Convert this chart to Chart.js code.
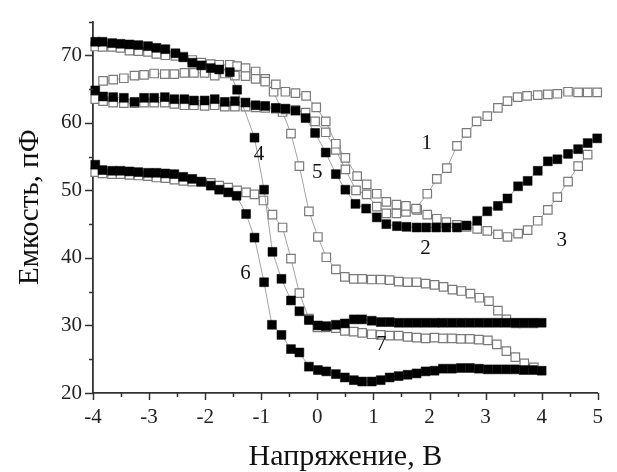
<!DOCTYPE html>
<html>
<head>
<meta charset="utf-8">
<script src="https://cdn.jsdelivr.net/npm/chart.js@4.4.1/dist/chart.umd.min.js"></script>
<style>
  html, body { margin: 0; padding: 0; background: #fff; }
</style>
</head>
<body>
<canvas id="cv" width="617" height="472"></canvas>
<script>
// C-V curves 1..7, voltage (V) / capacitance (pF)
const c1x = [-3.82,-3.64,-3.45,-3.26,-3.09,-2.91,-2.72,-2.55,-2.37,-2.20,-2.01,-1.83,-1.65,-1.47,-1.28,-1.10,-0.93,-0.74,-0.57,-0.39,-0.20,-0.02,0.15,0.33,0.50,0.71,0.88,1.06,1.23,1.41,1.58,1.76,1.96,2.13,2.31,2.49,2.66,2.84,3.03,3.22,3.39,3.57,3.74,3.93,4.11,4.28,4.47,4.65,4.82,4.99];
const c1y = [66.2,66.4,66.6,67.0,67.1,67.3,67.2,67.2,67.4,67.4,67.4,67.0,67.3,67.0,66.9,66.5,66.1,65.7,64.6,64.4,64.0,62.3,60.2,56.9,54.8,52.1,50.9,49.5,48.3,47.9,47.7,47.3,49.5,51.7,53.3,56.6,58.5,60.2,61.0,62.2,63.2,63.8,64.0,64.1,64.2,64.3,64.6,64.5,64.5,64.5];

const c2x = [-3.96,-3.82,-3.64,-3.45,-3.26,-3.09,-2.91,-2.72,-2.55,-2.37,-2.20,-2.01,-1.83,-1.65,-1.47,-1.28,-1.10,-0.93,-0.74,-0.57,-0.39,-0.21,-0.04,0.15,0.33,0.50,0.68,0.87,1.06,1.23,1.42,1.59,1.77,1.94,2.12,2.30,2.49,2.66,2.85,3.03,3.22,3.39,3.58,3.75,3.93,4.11,4.28,4.47,4.65,4.82,4.99];
const c2y = [64.8,63.9,63.8,63.7,63.1,63.7,63.7,63.8,63.5,63.5,63.3,63.3,63.5,63.1,63.2,63.0,62.6,62.5,62.2,62.1,61.8,60.7,58.5,55.6,52.4,50.1,48.0,47.3,46.0,45.0,44.7,44.6,44.5,44.5,44.5,44.5,44.5,44.8,45.5,46.9,47.7,48.8,50.6,51.4,52.9,54.3,54.6,55.4,56.1,57.0,57.7];

const c3x = [-3.96,-3.82,-3.64,-3.45,-3.26,-3.09,-2.91,-2.72,-2.55,-2.37,-2.20,-2.01,-1.83,-1.65,-1.47,-1.28,-1.10,-0.93,-0.74,-0.57,-0.39,-0.21,-0.04,0.15,0.33,0.50,0.69,0.88,1.06,1.23,1.41,1.58,1.78,1.96,2.13,2.30,2.49,2.66,2.85,3.03,3.22,3.39,3.58,3.75,3.93,4.11,4.28,4.47,4.65,4.82];
const c3y = [63.5,63.2,63.0,62.9,62.9,63.0,63.0,63.0,62.8,62.6,62.6,62.5,62.6,62.4,62.4,62.4,62.3,62.2,62.1,62.0,61.9,61.5,60.2,58.6,56.0,53.1,50.0,49.4,47.6,46.6,46.6,46.8,47.1,46.4,45.8,45.3,44.9,44.6,44.3,44.0,43.5,43.1,43.6,44.1,45.5,47.1,49.0,51.3,53.6,55.3];

const c4x = [-3.96,-3.83,-3.66,-3.51,-3.35,-3.19,-3.02,-2.87,-2.71,-2.53,-2.39,-2.23,-2.07,-1.90,-1.75,-1.56,-1.43,-1.12,-0.95,-0.80,-0.64,-0.47,-0.32,-0.15,0.01,0.16,0.33,0.49,0.65,0.80,0.97,1.13,1.29,1.45,1.61,1.77,1.93,2.09,2.24,2.40,2.56,2.72,2.88,3.04,3.20,3.36,3.52,3.68,3.84,4.00];
const c4y = [72.0,72.0,71.8,71.7,71.6,71.5,71.35,71.1,70.9,70.3,69.7,68.9,68.5,68.1,67.9,67.5,64.9,57.8,50.1,40.9,36.9,33.7,32.1,30.8,30.0,29.9,30.1,30.3,30.9,30.9,30.7,30.5,30.5,30.4,30.4,30.4,30.4,30.4,30.4,30.4,30.4,30.4,30.4,30.4,30.4,30.4,30.4,30.4,30.4,30.4];

const c5x = [-3.96,-3.83,-3.66,-3.51,-3.35,-3.19,-3.02,-2.87,-2.71,-2.53,-2.39,-2.23,-2.07,-1.90,-1.75,-1.56,-1.43,-1.28,-1.10,-0.93,-0.78,-0.62,-0.47,-0.32,-0.15,0.01,0.16,0.33,0.49,0.65,0.80,0.97,1.13,1.29,1.45,1.61,1.77,1.93,2.09,2.25,2.41,2.57,2.73,2.89,3.06,3.22,3.37,3.54,3.68,3.85];
const c5y = [71.3,71.25,71.25,71.1,70.7,70.6,70.5,70.2,70.0,69.9,69.8,69.3,68.9,68.7,68.6,68.6,68.4,68.1,67.6,66.5,64.6,61.6,58.4,53.6,46.9,43.1,40.1,38.3,37.2,36.9,36.9,36.8,36.8,36.7,36.5,36.4,36.4,36.2,36.0,35.7,35.3,35.1,34.7,34.1,33.6,32.2,30.9,30.3,30.3,30.3];

const c6x = [-3.96,-3.83,-3.66,-3.51,-3.35,-3.19,-3.02,-2.87,-2.71,-2.55,-2.39,-2.23,-2.07,-1.90,-1.75,-1.59,-1.44,-1.27,-1.12,-0.95,-0.81,-0.64,-0.47,-0.32,-0.15,0.01,0.16,0.33,0.49,0.65,0.80,0.97,1.13,1.29,1.45,1.61,1.77,1.93,2.09,2.24,2.40,2.56,2.72,2.88,3.04,3.20,3.36,3.52,3.68,3.84,4.00];
const c6y = [53.8,53.0,52.9,52.9,52.8,52.7,52.6,52.6,52.5,52.4,52.0,51.7,51.3,50.7,50.1,49.7,49.2,46.5,43.0,36.4,30.1,28.6,26.5,26.0,23.9,23.4,23.2,22.8,22.3,21.9,21.7,21.7,21.9,22.3,22.5,22.7,22.9,23.2,23.3,23.6,23.6,23.7,23.7,23.6,23.5,23.5,23.5,23.5,23.4,23.4,23.3];

const c7x = [-3.96,-3.83,-3.66,-3.51,-3.35,-3.19,-3.02,-2.87,-2.71,-2.55,-2.39,-2.23,-2.07,-1.90,-1.75,-1.59,-1.43,-1.27,-1.12,-0.96,-0.80,-0.62,-0.47,-0.32,-0.15,0.00,0.15,0.33,0.49,0.65,0.80,0.97,1.13,1.29,1.45,1.61,1.77,1.93,2.09,2.24,2.40,2.56,2.72,2.88,3.04,3.20,3.37,3.53,3.69,3.86];
const c7y = [52.7,52.5,52.4,52.4,52.3,52.2,52.1,51.9,51.8,51.6,51.4,51.3,51.2,51.1,50.7,50.4,50.0,49.7,49.4,48.5,46.4,44.5,39.9,34.8,31.0,29.7,29.7,29.6,29.2,29.1,28.9,28.7,28.6,28.5,28.5,28.3,28.2,28.1,28.2,28.1,28.1,28.0,28.0,27.9,27.8,27.2,26.2,25.3,24.4,23.8];

// curve numbers written on the plot, in data coordinates
const labelText = ['1', '2', '3', '4', '5', '6', '7'];
const labelX = [1.95, 1.93, 4.36, -1.04, 0.0, -1.28, 1.14];
const labelY = [57.0, 41.4, 42.6, 55.3, 52.6, 37.7, 27.2];

const serif = '"Liberation Serif", "Times New Roman", serif';

const toPoints = (xs, ys) => xs.map((v, i) => ({ x: v, y: ys[i] }));

const filled = (xs, ys) => ({
  data: toPoints(xs, ys),
  order: 1,
  borderColor: '#8a8a8a',
  borderWidth: 0.8,
  pointStyle: 'rect',
  pointRadius: 6.3,
  pointBackgroundColor: '#000',
  pointBorderColor: '#000',
  pointBorderWidth: 0.5,
  clip: false
});

const hollow = (xs, ys) => ({
  data: toPoints(xs, ys),
  order: 2,
  borderColor: '#8a8a8a',
  borderWidth: 0.8,
  pointStyle: 'rect',
  pointRadius: 6,
  pointBackgroundColor: '#fff',
  pointBorderColor: '#7a7a7a',
  pointBorderWidth: 1.2,
  clip: false
});

// short/long tick marks pointing out of the plot
const tickMarks = {
  id: 'tickMarks',
  afterDraw(chart) {
    const { ctx, chartArea, scales: { x, y } } = chart;
    ctx.save();
    ctx.strokeStyle = '#333';
    ctx.lineWidth = 1.5;
    ctx.beginPath();
    x.ticks.forEach(t => {
      const px = Math.round(x.getPixelForValue(t.value)) + 0.5;
      const len = Number.isInteger(t.value) ? 7 : 4;
      ctx.moveTo(px, chartArea.bottom);
      ctx.lineTo(px, chartArea.bottom + len);
    });
    y.ticks.forEach(t => {
      const py = Math.round(y.getPixelForValue(t.value)) + 0.5;
      const len = t.value % 10 === 0 ? 8 : 4;
      ctx.moveTo(chartArea.left, py);
      ctx.lineTo(chartArea.left - len, py);
    });
    ctx.stroke();
    ctx.restore();
  }
};

const curveLabels = {
  id: 'curveLabels',
  afterDatasetsDraw(chart) {
    const { ctx, scales: { x, y } } = chart;
    ctx.save();
    ctx.font = '21px ' + serif;
    ctx.fillStyle = '#111';
    ctx.textAlign = 'center';
    ctx.textBaseline = 'middle';
    labelText.forEach((t, i) => {
      ctx.fillText(t, x.getPixelForValue(labelX[i]), y.getPixelForValue(labelY[i]));
    });
    ctx.restore();
  }
};

new Chart(document.getElementById('cv'), {
  type: 'line',
  data: {
    datasets: [
      filled(c2x, c2y),
      filled(c4x, c4y),
      filled(c6x, c6y),
      hollow(c1x, c1y),
      hollow(c3x, c3y),
      hollow(c5x, c5y),
      hollow(c7x, c7y)
    ]
  },
  options: {
    responsive: false,
    animation: false,
    events: [],
    layout: { padding: { top: 11, right: 9, left: 0, bottom: 0 } },
    plugins: {
      legend: { display: false },
      tooltip: { enabled: false }
    },
    scales: {
      x: {
        type: 'linear',
        min: -4,
        max: 5,
        afterFit: s => { s.height = 79; },
        grid: { display: false, drawTicks: false },
        border: { display: true, color: '#333', width: 1.8 },
        ticks: {
          stepSize: 0.5,
          autoSkip: false,
          maxRotation: 0,
          padding: 14,
          color: '#222',
          font: { family: serif, size: 21, lineHeight: 1 },
          callback: v => Number.isInteger(v) ? String(v) : ''
        },
        title: {
          display: true,
          text: 'Напряжение, В',
          color: '#111',
          font: { family: serif, size: 30, lineHeight: 1 },
          padding: { top: 0, bottom: 0 }
        }
      },
      y: {
        type: 'linear',
        min: 20,
        max: 75,
        afterFit: s => { s.width = 93; },
        grid: { display: false, drawTicks: false },
        border: { display: true, color: '#333', width: 1.8 },
        ticks: {
          stepSize: 5,
          autoSkip: false,
          padding: 11,
          color: '#222',
          font: { family: serif, size: 21, lineHeight: 1 },
          callback: v => v % 10 === 0 ? String(v) : ''
        },
        title: {
          display: true,
          text: 'Емкость, пФ',
          color: '#111',
          font: { family: serif, size: 29, lineHeight: 1 },
          padding: { top: 16, bottom: 0 }
        }
      }
    }
  },
  plugins: [tickMarks, curveLabels]
});
</script>
</body>
</html>
